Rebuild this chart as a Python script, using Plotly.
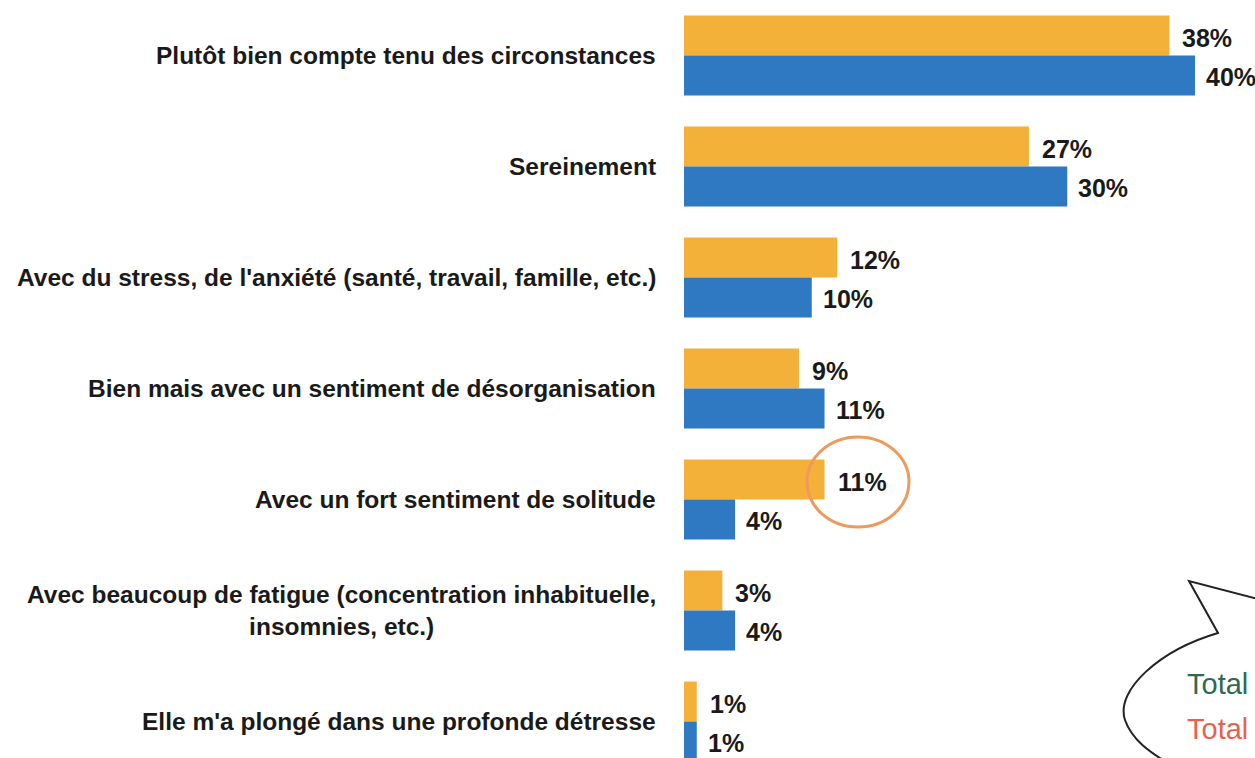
import plotly.graph_objects as go

categories = [
    "Plutôt bien compte tenu des circonstances",
    "Sereinement",
    "Avec du stress, de l'anxiété (santé, travail, famille, etc.)",
    "Bien mais avec un sentiment de désorganisation",
    "Avec un fort sentiment de solitude",
    "Avec beaucoup de fatigue (concentration inhabituelle,<br>insomnies, etc.)",
    "Elle m'a plongé dans une profonde détresse",
]
orange_values = [38, 27, 12, 9, 11, 3, 1]
blue_values = [40, 30, 10, 11, 4, 4, 1]
bubble_texts = ["Total", "Total"]

ORANGE = "#F4B13A"
BLUE = "#2F79C3"
FONT = "Liberation Sans, Arial, sans-serif"

W, H = 1255, 758
L = 684
PX_PER_UNIT_X = 12.775
PX_PER_CAT = 111.0
X_MAX = (W - L) / PX_PER_UNIT_X
Y_MAX = -0.5 + H / PX_PER_CAT


def px2x(px):
    return (px - L) / PX_PER_UNIT_X


def px2y(py):
    return -0.5 + py / PX_PER_CAT


idx = list(range(len(categories)))
BW = 0.36

fig = go.Figure()
fig.add_trace(go.Bar(y=idx, x=orange_values, orientation="h", width=BW, offset=-BW,
                     marker=dict(color=ORANGE, line=dict(width=0)), showlegend=False))
fig.add_trace(go.Bar(y=idx, x=blue_values, orientation="h", width=BW, offset=0,
                     marker=dict(color=BLUE, line=dict(width=0)), showlegend=False))

annotations = []
for i, cat in enumerate(categories):
    annotations.append(dict(x=0, y=i, xref="x", yref="y", text=cat, showarrow=False,
                            xanchor="right", yanchor="middle", align="center", xshift=-26,
                            font=dict(family=FONT, size=24.5, color="#1a1a1a", weight="bold")))
for i, (o, b) in enumerate(zip(orange_values, blue_values)):
    annotations.append(dict(x=o, y=i - BW / 2, xref="x", yref="y", text=f"{o}%", showarrow=False,
                            xanchor="left", yanchor="middle", xshift=11, yshift=-2,
                            font=dict(family=FONT, size=25, color="#1a1a1a", weight="bold")))
    annotations.append(dict(x=b, y=i + BW / 2, xref="x", yref="y", text=f"{b}%", showarrow=False,
                            xanchor="left", yanchor="middle", xshift=9, yshift=-2,
                            font=dict(family=FONT, size=25, color="#1a1a1a", weight="bold")))

annotations.append(dict(x=px2x(1185), y=px2y(684), xref="x", yref="y", text=bubble_texts[0],
                        showarrow=False, xanchor="left", yanchor="middle",
                        font=dict(family=FONT, size=29, color="#2F6A50")))
annotations.append(dict(x=px2x(1185), y=px2y(729), xref="x", yref="y", text=bubble_texts[1],
                        showarrow=False, xanchor="left", yanchor="middle",
                        font=dict(family=FONT, size=29, color="#E8614E")))

shapes = []
# circle around the 11% label
shapes.append(dict(type="circle", xref="x", yref="y",
                   x0=px2x(807), x1=px2x(909), y0=px2y(437), y1=px2y(527),
                   line=dict(color="#EF9A5C", width=3)))


def pt(px, py):
    return f"{px2x(px):.4f},{px2y(py):.4f}"


bubble_path = ("M " + pt(1258, 599) + " L " + pt(1189, 581) + " L " + pt(1218, 633)
               + " C " + pt(1160, 650) + " " + pt(1115, 690) + " " + pt(1125, 720)
               + " C " + pt(1132, 740) + " " + pt(1150, 752) + " " + pt(1166, 762))
shapes.append(dict(type="path", xref="x", yref="y", path=bubble_path,
                   line=dict(color="#222222", width=2)))

fig.update_layout(
    width=W, height=H,
    margin=dict(l=L, r=0, t=0, b=0),
    paper_bgcolor="white", plot_bgcolor="white",
    barmode="overlay",
    xaxis=dict(range=[0, X_MAX], visible=False, fixedrange=True),
    yaxis=dict(range=[Y_MAX, -0.5], visible=False, fixedrange=True),
    annotations=annotations,
    shapes=shapes,
)
fig.write_html("out.html", config={"displayModeBar": False},
               post_script="document.body.style.margin='0';document.body.style.overflow='hidden';")
